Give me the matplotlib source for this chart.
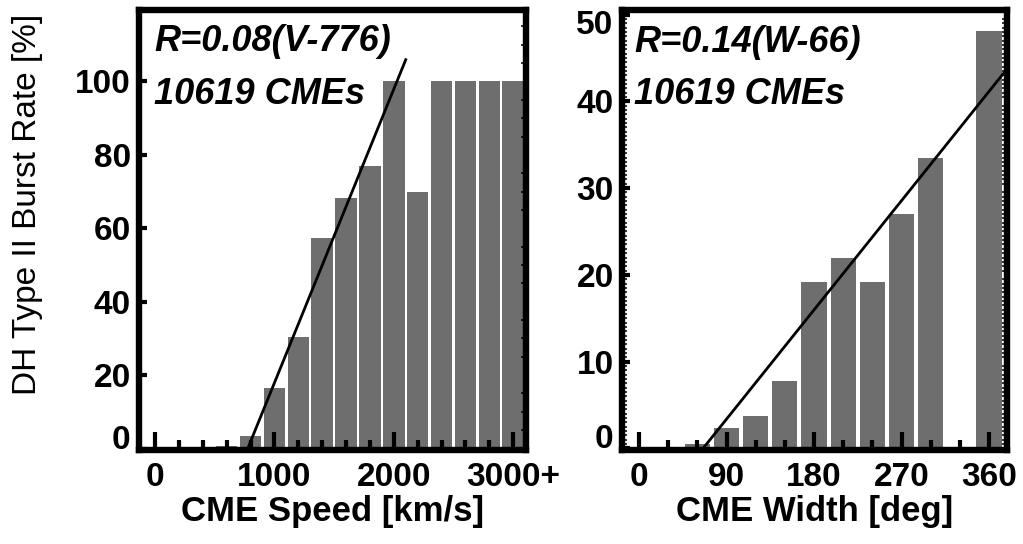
import matplotlib
matplotlib.use('Agg')
import matplotlib.pyplot as plt
from matplotlib.transforms import ScaledTranslation
from matplotlib.ticker import MultipleLocator

plt.rcParams['font.family'] = ['Liberation Sans', 'DejaVu Sans']

# --- data ---
speed_bins = [0, 200, 400, 600, 800, 1000, 1200, 1400, 1600, 1800, 2000, 2200, 2400, 2600, 2800, 3000]
speed_rate = [0, 0, 0, 0.6, 3.5, 16.4, 30.5, 57.4, 68.2, 76.9, 100, 69.9, 100, 100, 100, 100]
speed_ticks = [0, 1000, 2000, 3000]
speed_ticklabels = ['0', '1000', '2000', '3000+']
speed_fit_x = [776, 2100]          # R = 0.08 (V - 776)

width_bins = [0, 30, 60, 90, 120, 150, 180, 210, 240, 270, 300, 330, 360]
width_rate = [0, 0, 0.5, 2.3, 3.7, 7.8, 19.2, 21.9, 19.2, 27.0, 33.5, 0, 48.1]
width_ticks = [0, 90, 180, 270, 360]
width_ticklabels = ['0', '90', '180', '270', '360']
width_fit_x = [66, 378]            # R = 0.14 (W - 66)

bar_col = '#6e6e6e'

fig = plt.figure(figsize=(10.23, 5.44), dpi=100)
ax1 = fig.add_axes([0.1359, 0.1728, 0.3783, 0.8097])
ax2 = fig.add_axes([0.6080, 0.1728, 0.3764, 0.8097])


def style(ax):
    for s in ax.spines.values():
        s.set_linewidth(4.6)
    ax.tick_params(axis='x', which='major', direction='in', length=13, width=3,
                   pad=9, labelsize=24, top=False)
    ax.tick_params(axis='x', which='minor', direction='in', length=7, width=3, top=False)
    ax.tick_params(axis='y', which='major', direction='in', length=6, width=3,
                   pad=6, labelsize=24, right=False)
    ax.tick_params(axis='y', which='minor', direction='in', length=3.8, width=1.1)
    for lbl in ax.get_xticklabels() + ax.get_yticklabels():
        lbl.set_fontweight('bold')


# links: nopeus
ax1.bar(speed_bins, speed_rate, width=180, color=bar_col, zorder=1)
ax1.plot(speed_fit_x, [0.08 * (v - 776) for v in speed_fit_x], color='black', lw=2, zorder=2)
ax1.set_xlim(-135, 3108)
ax1.set_ylim(-0.4, 119.6)
ax1.set_xticks(speed_ticks)
ax1.set_xticklabels(speed_ticklabels)
ax1.set_xticks(speed_bins, minor=True)
ax1.set_yticks([0, 20, 40, 60, 80, 100])
ax1.yaxis.set_minor_locator(MultipleLocator(5))
ax1.set_xlabel('CME Speed [km/s]', fontsize=25, fontweight='bold', labelpad=1)
ax1.set_ylabel('DH Type II Burst Rate [%]', fontsize=24, va='center')
ax1.yaxis.set_label_coords(-0.287, 0.558)
ax1.text(0.039, 0.906, 'R=0.08(V-776)', transform=ax1.transAxes, fontsize=26,
         fontweight='bold', style='italic', va='baseline')
ax1.text(0.039, 0.785, '10619 CMEs', transform=ax1.transAxes, fontsize=26,
         fontweight='bold', style='italic', va='baseline')
style(ax1)
ax1.tick_params(axis='y', which='minor', left=False, right=True)

# oikea: leveys
ax2.bar(width_bins, width_rate, width=26, color=bar_col, zorder=1)
ax2.plot(width_fit_x, [0.14 * (w - 66) for w in width_fit_x], color='black', lw=2, zorder=2)
ax2.set_xlim(-17.5, 378.5)
ax2.set_ylim(-0.2, 50.6)
ax2.set_xticks(width_ticks)
ax2.set_xticklabels(width_ticklabels)
ax2.set_xticks(width_bins, minor=True)
ax2.set_yticks([0, 10, 20, 30, 40, 50])
ax2.yaxis.set_minor_locator(MultipleLocator(0.5))
ax2.set_xlabel('CME Width [deg]', fontsize=25, fontweight='bold', labelpad=1)
ax2.text(0.032, 0.903, 'R=0.14(W-66)', transform=ax2.transAxes, fontsize=26,
         fontweight='bold', style='italic', va='baseline')
ax2.text(0.032, 0.785, '10619 CMEs', transform=ax2.transAxes, fontsize=26,
         fontweight='bold', style='italic', va='baseline')
style(ax2)
ax2.tick_params(axis='y', which='minor', left=True, right=True)

# alkuperäisessä 0- ja 50-merkinnät on siirretty akselin sisäpuolelle
for ax, idx, dy in [(ax1, 0, 0.12), (ax2, 0, 0.12), (ax2, 5, -0.07)]:
    ax.get_yticklabels()
    lab = ax.yaxis.get_major_ticks()[idx].label1
    lab.set_transform(lab.get_transform() + ScaledTranslation(0, dy, fig.dpi_scale_trans))

fig.savefig('out.png', dpi=100)
plt.close(fig)
